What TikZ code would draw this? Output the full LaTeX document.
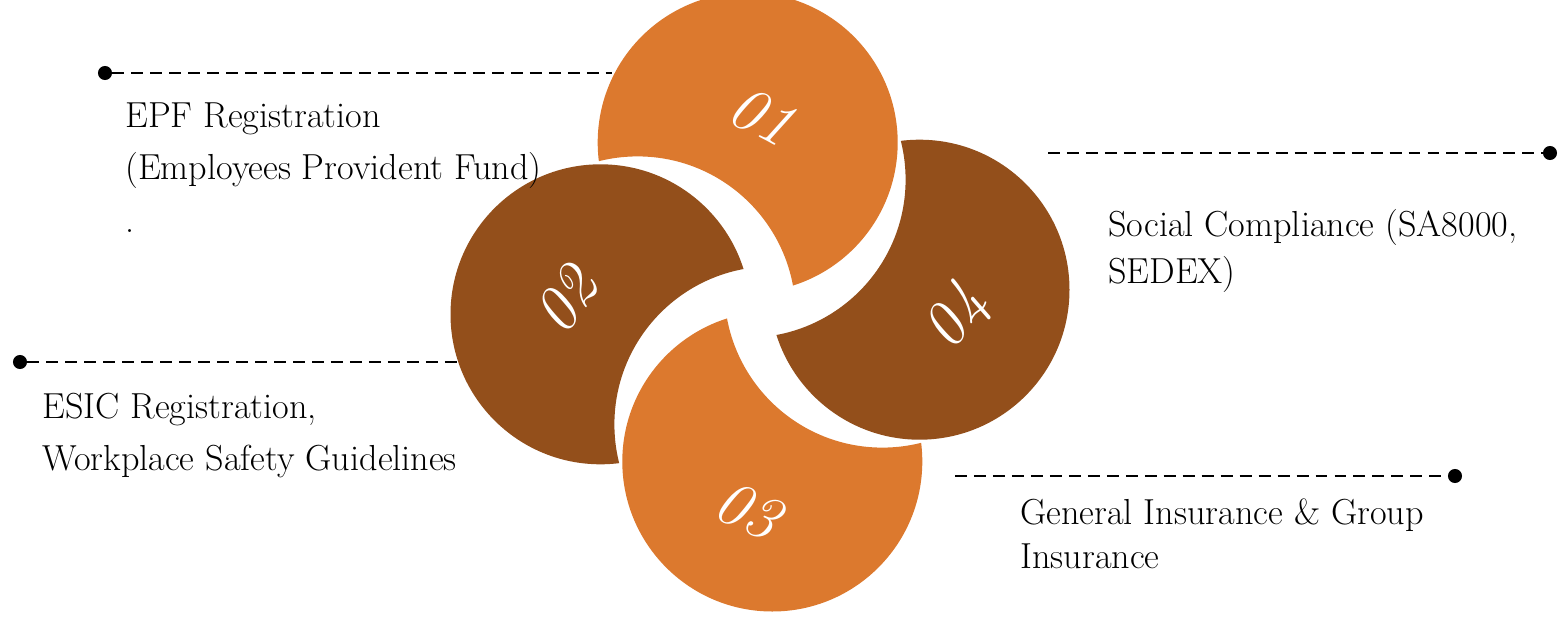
\documentclass[tikz,border=0pt]{standalone}
\usepackage{tikz}
\usepackage{xcolor}
\definecolor{petalorange}{HTML}{DC792E}
\definecolor{petalbrown}{HTML}{934F1B}

\begin{document}
\begin{tikzpicture}[x=0.02cm,y=0.02cm,
  dot/.style={circle,fill=black,minimum size=8pt,inner sep=0pt},
  leader/.style={line width=1.5pt,dash pattern=on 6.8pt off 4pt},
  desc/.style={anchor=base west,align=left,inner sep=0pt,font=\fontsize{20.6}{29.6}\selectfont},
  num/.style={text=white,inner sep=0pt,font=\fontsize{36}{36}\selectfont\itshape}]
\useasboundingbox (0,0) rectangle (1560,-616);

\coordinate (p1) at (747.7,-142.5);
\coordinate (p2) at (600.5,-314.3);
\coordinate (p3) at (772.3,-461.5);
\coordinate (p4) at (919.5,-289.7);
\coordinate (b1) at (637.6,-314.4);
\coordinate (b2) at (772.4,-424.4);
\coordinate (b3) at (882.4,-289.6);
\coordinate (b4) at (747.6,-179.6);

\node[dot] (d1) at (105,-73) {};
\coordinate (e1) at (612,-73);
\draw[leader] (d1) -- (e1);
\node[dot] (d2) at (20,-362) {};
\coordinate (e2) at (462,-362);
\draw[leader] (d2) -- (e2);
\node[dot] (d3) at (1455,-476) {};
\coordinate (e3) at (955,-476);
\draw[leader] (e3) -- (d3);
\node[dot] (d4) at (1550,-153) {};
\coordinate (e4) at (1048,-153);
\draw[leader] (e4) -- (d4);

\begin{scope}
\clip (p1) circle[radius=150];
\fill[petalorange,even odd rule] (p1) circle[radius=153] (b1) circle[radius=158];
\end{scope}
\begin{scope}
\clip (p2) circle[radius=150];
\fill[petalbrown,even odd rule] (p2) circle[radius=153] (b2) circle[radius=158];
\end{scope}
\begin{scope}
\clip (p3) circle[radius=150];
\fill[petalorange,even odd rule] (p3) circle[radius=153] (b3) circle[radius=158];
\end{scope}
\begin{scope}
\clip (p4) circle[radius=150];
\fill[petalbrown,even odd rule] (p4) circle[radius=153] (b4) circle[radius=158];
\end{scope}

\node[num,rotate=-28] (n1) at (762,-116) {01};
\node[num,rotate=55] (n2) at (566,-300) {02};
\node[num,rotate=-25] (n3) at (748,-510) {03};
\node[num,rotate=55] (n4) at (958,-318) {04};

\node[desc] (t1) at (125,-232) {EPF Registration\\(Employees Provident Fund)\\.};
\node[desc] (t2) at (42,-470) {ESIC Registration,\\Workplace Safety Guidelines};
\node[desc,font=\fontsize{20.6}{26.2}\selectfont] (t4) at (1108,-283) {Social Compliance (SA8000,\\SEDEX)};
\node[desc,font=\fontsize{20.6}{25}\selectfont] (t3) at (1020,-568) {General Insurance \& Group\\Insurance};
\end{tikzpicture}
\end{document}
